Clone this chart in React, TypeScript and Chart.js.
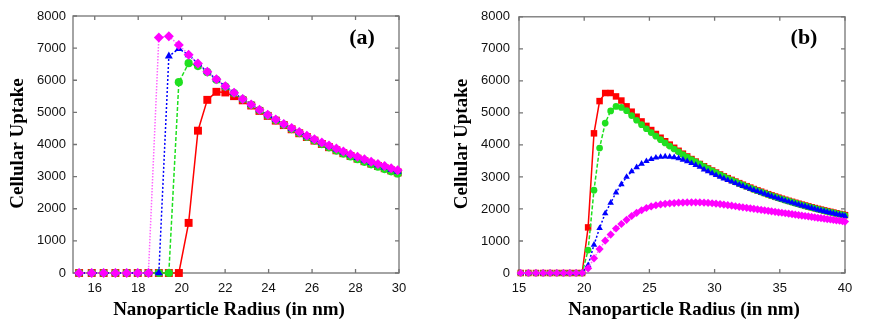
import React, { useEffect, useRef } from "react";
import { Chart, registerables } from "chart.js";

Chart.register(...registerables);

// ---------- data ----------
const yTicks = [0, 1000, 2000, 3000, 4000, 5000, 6000, 7000, 8000];
const xTicksA = [16, 18, 20, 22, 24, 26, 28, 30];
const xTicksB = [15, 20, 25, 30, 35, 40];

const radiusA = [15.28, 15.86, 16.41, 16.95, 17.47, 17.98, 18.47, 18.95, 19.41, 19.87, 20.32, 20.75, 21.18, 21.6, 22.01, 22.41, 22.81, 23.2, 23.58, 23.96, 24.33, 24.7, 25.06, 25.41, 25.76, 26.11, 26.45, 26.78, 27.12, 27.44, 27.77, 28.09, 28.41, 28.72, 29.03, 29.34, 29.64, 29.94];

const redA = [0, 0, 0, 0, 0, 0, 0, 0, 0, 0, 1560, 4430, 5390, 5640, 5620, 5505, 5375, 5213, 5046, 4890, 4743, 4604, 4473, 4350, 4232, 4121, 4016, 3916, 3820, 3729, 3642, 3559, 3480, 3404, 3331, 3261, 3194, 3129];
const greenA = [0, 0, 0, 0, 0, 0, 0, 0, 0, 5940, 6530, 6440, 6250, 6015, 5801, 5598, 5409, 5233, 5064, 4905, 4755, 4614, 4480, 4355, 4234, 4121, 4013, 3911, 3812, 3719, 3629, 3544, 3462, 3384, 3308, 3236, 3166, 3099];
const blueA = [0, 0, 0, 0, 0, 0, 0, 0, 6750, 6980, 6790, 6520, 6265, 6029, 5811, 5608, 5419, 5243, 5076, 4920, 4773, 4634, 4503, 4380, 4262, 4151, 4046, 3946, 3850, 3759, 3672, 3589, 3510, 3434, 3361, 3291, 3224, 3159];
const magentaA = [0, 0, 0, 0, 0, 0, 0, 7330, 7370, 7100, 6797, 6520, 6265, 6029, 5811, 5608, 5419, 5243, 5078, 4924, 4779, 4642, 4513, 4392, 4276, 4167, 4064, 3966, 3872, 3783, 3698, 3617, 3540, 3466, 3395, 3327, 3262, 3199];

const radiusB = [15.13, 15.72, 16.3, 16.85, 17.38, 17.9, 18.41, 18.9, 19.38, 19.84, 20.3, 20.75, 21.18, 21.61, 22.03, 22.44, 22.85, 23.25, 23.64, 24.02, 24.4, 24.77, 25.14, 25.5, 25.86, 26.21, 26.56, 26.9, 27.24, 27.57, 27.9, 28.23, 28.55, 28.87, 29.19, 29.5, 29.81, 30.11, 30.42, 30.71, 31.01, 31.31, 31.6, 31.89, 32.17, 32.46, 32.74, 33.01, 33.29, 33.57, 33.84, 34.11, 34.37, 34.64, 34.9, 35.16, 35.42, 35.68, 35.94, 36.19, 36.44, 36.69, 36.94, 37.19, 37.44, 37.68, 37.92, 38.16, 38.4, 38.64, 38.88, 39.11, 39.34, 39.58, 39.81, 40.0];

const redB = [0, 0, 0, 0, 0, 0, 0, 0, 0, 0, 1424, 4361, 5368, 5620, 5620, 5514, 5385, 5204, 5037, 4880, 4733, 4594, 4464, 4341, 4224, 4114, 4009, 3910, 3816, 3726, 3640, 3558, 3480, 3405, 3334, 3265, 3200, 3137, 3076, 3018, 2962, 2908, 2856, 2806, 2757, 2711, 2666, 2622, 2580, 2539, 2499, 2461, 2424, 2388, 2353, 2319, 2286, 2254, 2223, 2193, 2164, 2135, 2108, 2080, 2054, 2028, 2003, 1979, 1955, 1932, 1909, 1887, 1865, 1844, 1824, 1807];
const greenB = [0, 0, 0, 0, 0, 0, 0, 0, 0, 0, 716, 2586, 3903, 4680, 5060, 5200, 5170, 5070, 4915, 4770, 4633, 4504, 4384, 4271, 4164, 4062, 3964, 3872, 3784, 3700, 3620, 3543, 3470, 3397, 3322, 3253, 3188, 3125, 3064, 3006, 2950, 2896, 2844, 2794, 2745, 2699, 2654, 2610, 2568, 2527, 2487, 2449, 2412, 2376, 2341, 2307, 2274, 2242, 2211, 2181, 2152, 2123, 2096, 2068, 2042, 2016, 1991, 1967, 1943, 1920, 1897, 1875, 1853, 1832, 1812, 1795];
const blueB = [0, 0, 0, 0, 0, 0, 0, 0, 0, 0, 245, 880, 1400, 1860, 2190, 2510, 2770, 3000, 3170, 3300, 3410, 3490, 3555, 3600, 3624, 3634, 3630, 3610, 3580, 3535, 3485, 3430, 3372, 3312, 3230, 3170, 3112, 3055, 3000, 2948, 2898, 2850, 2803, 2758, 2714, 2671, 2630, 2589, 2552, 2511, 2471, 2433, 2396, 2360, 2325, 2291, 2258, 2226, 2195, 2165, 2136, 2107, 2080, 2052, 2026, 2000, 1975, 1951, 1927, 1904, 1881, 1859, 1837, 1816, 1796, 1779];
const magentaB = [0, 0, 0, 0, 0, 0, 0, 0, 0, 0, 146, 457, 748, 1010, 1200, 1390, 1530, 1660, 1780, 1880, 1960, 2030, 2080, 2115, 2140, 2160, 2175, 2185, 2195, 2200, 2204, 2206, 2206, 2203, 2197, 2189, 2178, 2166, 2152, 2136, 2119, 2101, 2084, 2067, 2051, 2035, 2019, 2003, 1987, 1971, 1956, 1941, 1926, 1911, 1896, 1881, 1866, 1851, 1837, 1822, 1808, 1794, 1780, 1766, 1752, 1738, 1724, 1711, 1697, 1684, 1670, 1657, 1644, 1631, 1618, 1605];

const xTitle = "Nanoparticle Radius (in nm)";
const yTitle = "Cellular Uptake";

// ---------- helpers ----------
const toPts = (xs: number[], ys: number[]) => xs.map((x, i) => ({ x, y: ys[i] }));

const framePlugin = {
  id: "frame",
  beforeDatasetsDraw(chart: any) {
    const { ctx, chartArea } = chart;
    const { left, right, top, bottom } = chartArea;
    const xs = chart.scales.x;
    const ys = chart.scales.y;
    ctx.save();
    ctx.strokeStyle = "#747474";
    ctx.lineWidth = 1.3;
    ctx.strokeRect(left, top, right - left, bottom - top);
    const tl = 4;
    ctx.beginPath();
    ys.ticks.forEach((t: any) => {
      const p = ys.getPixelForValue(t.value);
      ctx.moveTo(left, p);
      ctx.lineTo(left + tl, p);
      ctx.moveTo(right, p);
      ctx.lineTo(right - tl, p);
    });
    xs.ticks.forEach((t: any) => {
      const p = xs.getPixelForValue(t.value);
      ctx.moveTo(p, bottom);
      ctx.lineTo(p, bottom - tl);
      ctx.moveTo(p, top);
      ctx.lineTo(p, top + tl);
    });
    ctx.stroke();
    ctx.restore();
  },
  afterDraw(chart: any, _args: any, opts: any) {
    const { ctx } = chart;
    ctx.save();
    ctx.fillStyle = "#000";
    ctx.textAlign = "center";
    ctx.textBaseline = "middle";
    ctx.font = "bold 19px 'Liberation Serif'";
    ctx.fillText(xTitle, opts.xTitleX, opts.xTitleY);
    ctx.save();
    ctx.translate(opts.yTitleX, opts.yTitleY);
    ctx.rotate(-Math.PI / 2);
    ctx.fillText(yTitle, 0, 0);
    ctx.restore();
    ctx.font = "bold 22px 'Liberation Serif'";
    ctx.fillText(opts.label, opts.labelX, opts.labelY);
    ctx.restore();
  },
};

type Panel = {
  radius: number[];
  red: number[];
  green: number[];
  blue: number[];
  magenta: number[];
  xMin: number;
  xMax: number;
  xTicks: number[];
  yAxisWidth: number;
  padRight: number;
  yTickPad: number;
  big: boolean;
  frame: any;
};

function ChartPanel({ p }: { p: Panel }) {
  const ref = useRef<HTMLCanvasElement>(null);
  useEffect(() => {
    if (!ref.current) return;
    const s = p.big ? 1 : 0.82;
    const chart = new Chart(ref.current, {
      type: "line",
      data: {
        datasets: [
          {
            data: toPts(p.radius, p.red),
            borderColor: "#ff0000",
            backgroundColor: "#ff0000",
            borderWidth: 1.5,
            pointStyle: "rect",
            pointRadius: 5.6 * s,
            pointBorderWidth: 0,
            pointBackgroundColor: "#ff0000",
            order: 4,
          },
          {
            data: toPts(p.radius, p.green),
            borderColor: "#1fe01f",
            backgroundColor: "#1fe01f",
            borderWidth: 1.5,
            borderDash: [4, 2],
            pointStyle: "circle",
            pointRadius: 4.1 * s,
            pointBorderWidth: 0,
            pointBackgroundColor: "#1fe01f",
            order: 3,
          },
          {
            data: toPts(p.radius, p.blue),
            borderColor: "#0000ff",
            backgroundColor: "#0000ff",
            borderWidth: 1.5,
            borderDash: [2, 2],
            pointStyle: "triangle",
            pointRadius: 4.6 * s,
            pointBorderWidth: 0,
            pointBackgroundColor: "#0000ff",
            order: 2,
          },
          {
            data: toPts(p.radius, p.magenta),
            borderColor: "#ff66ff",
            backgroundColor: "#ff00ff",
            borderWidth: 1.5,
            borderDash: [1.5, 1.5],
            pointStyle: "rectRot",
            pointRadius: 5 * s,
            pointBorderWidth: 0,
            pointBackgroundColor: "#ff00ff",
            order: 1,
          },
        ],
      },
      options: {
        responsive: false,
        animation: false,
        devicePixelRatio: 1,
        layout: { padding: { left: 0, top: 16, right: p.padRight, bottom: 0 } },
        elements: { line: { tension: 0 } },
        datasets: { line: { clip: false } } as any,
        plugins: {
          legend: { display: false },
          tooltip: { enabled: false },
          frame: p.frame,
        } as any,
        scales: {
          x: {
            type: "linear",
            min: p.xMin,
            max: p.xMax,
            grid: { display: false, drawTicks: false },
            border: { display: false },
            afterBuildTicks: (sc: any) => {
              sc.ticks = p.xTicks.map((v) => ({ value: v }));
            },
            afterFit: (sc: any) => {
              sc.height = 50;
            },
            ticks: {
              color: "#111",
              font: { family: "'Liberation Sans'", size: 13 },
              padding: 8,
              maxRotation: 0,
              autoSkip: false,
              callback: (v: any) => String(v),
            },
          },
          y: {
            type: "linear",
            min: 0,
            max: 8000,
            grid: { display: false, drawTicks: false },
            border: { display: false },
            afterBuildTicks: (sc: any) => {
              sc.ticks = yTicks.map((v) => ({ value: v }));
            },
            afterFit: (sc: any) => {
              sc.width = p.yAxisWidth;
            },
            ticks: {
              color: "#111",
              font: { family: "'Liberation Sans'", size: 13 },
              padding: p.yTickPad,
              autoSkip: false,
              callback: (v: any) => String(v),
            },
          },
        },
      },
      plugins: [framePlugin],
    });
    return () => chart.destroy();
  }, [p]);
  return <canvas ref={ref} width={436} height={323} style={{ display: "block", width: 436, height: 323 }} />;
}

const panelA: Panel = {
  radius: radiusA,
  red: redA,
  green: greenA,
  blue: blueA,
  magenta: magentaA,
  xMin: 15,
  xMax: 30,
  xTicks: xTicksA,
  yAxisWidth: 73,
  padRight: 37,
  yTickPad: 7,
  big: true,
  frame: { xTitleX: 229, xTitleY: 310, yTitleX: 18, yTitleY: 143.5, label: "(a)", labelX: 362, labelY: 38 },
};

const panelB: Panel = {
  radius: radiusB,
  red: redB,
  green: greenB,
  blue: blueB,
  magenta: magentaB,
  xMin: 15,
  xMax: 40,
  xTicks: xTicksB,
  yAxisWidth: 83,
  padRight: 27,
  yTickPad: 9,
  big: false,
  frame: { xTitleX: 248, xTitleY: 310, yTitleX: 26.5, yTitleY: 144, label: "(b)", labelX: 368, labelY: 38 },
};

export default function App() {
  return (
    <div style={{ position: "absolute", left: 0, top: 0, width: 872, height: 323, display: "flex", background: "#fff" }}>
      <ChartPanel p={panelA} />
      <ChartPanel p={panelB} />
    </div>
  );
}
